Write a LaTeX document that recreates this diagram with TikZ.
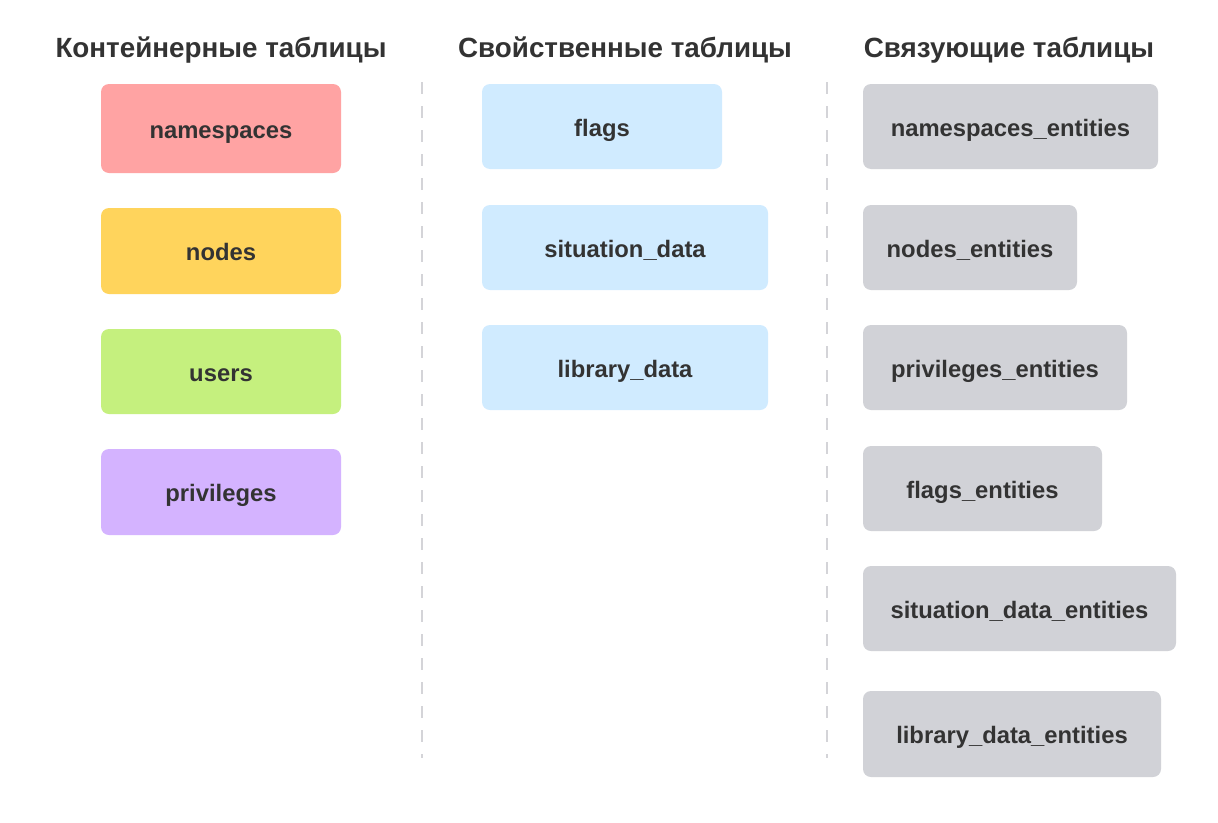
\documentclass[tikz,border=0pt]{standalone}
\usepackage{fontspec}
\setmainfont{Liberation Sans}
\begin{document}
\begin{tikzpicture}[x=1pt,y=-1pt,
  box/.style={rounded corners=8pt, draw=none, fill=#1},
  lbl/.style={anchor=base, inner sep=0pt, font=\fontsize{23.8}{27}\selectfont\bfseries, text=txt},
  hdr/.style={anchor=base, inner sep=0pt, font=\fontsize{27.8}{32}\selectfont\bfseries, text=txt},
  sep/.style={draw=sepc, line width=1.6pt, dash pattern=on 12pt off 12pt}]
\definecolor{txt}{HTML}{333333}
\definecolor{cpink}{HTML}{FFA3A3}
\definecolor{cyel}{HTML}{FFD45C}
\definecolor{cgreen}{HTML}{C5F07E}
\definecolor{cviol}{HTML}{D4B3FF}
\definecolor{cblue}{HTML}{D0EBFF}
\definecolor{cgray}{HTML}{D1D2D7}
\definecolor{sepc}{HTML}{D4D4D8}
\useasboundingbox[fill=white] (0,0) rectangle (1218,822);
% headings
\node[hdr] (h1) at (221,57) {Контейнерные таблицы};
\node[hdr] (h2) at (625,57) {Свойственные таблицы};
\node[hdr] (h3) at (1009,57) {Связующие таблицы};
% separators
\coordinate (s1a) at (422,82); \coordinate (s1b) at (422,758);
\coordinate (s2a) at (827,82); \coordinate (s2b) at (827,758);
\draw[sep] (s1a) -- (s1b);
\draw[sep] (s2a) -- (s2b);
% column 1
\fill[box=cpink] (101,84) rectangle (341,173);
\node[lbl] (ns) at (221,138) {namespaces};
\fill[box=cyel] (101,208) rectangle (341,294);
\node[lbl] (nd) at (221,260.5) {nodes};
\fill[box=cgreen] (101,329) rectangle (341,414);
\node[lbl] (us) at (221,381) {users};
\fill[box=cviol] (101,449) rectangle (341,535);
\node[lbl] (pr) at (221,501.5) {privileges};
% column 2
\fill[box=cblue] (482,84) rectangle (722,169);
\node[lbl] (fl) at (602,136) {flags};
\fill[box=cblue] (482,205) rectangle (768,290);
\node[lbl] (sd) at (625,257) {situation\_data};
\fill[box=cblue] (482,325) rectangle (768,410);
\node[lbl] (ld) at (625,377) {library\_data};
% column 3
\fill[box=cgray] (863,84) rectangle (1158,169);
\node[lbl] (nse) at (1010.5,136) {namespaces\_entities};
\fill[box=cgray] (863,205) rectangle (1077,290);
\node[lbl] (nde) at (970,257) {nodes\_entities};
\fill[box=cgray] (863,325) rectangle (1127,410);
\node[lbl] (pre) at (995,377) {privileges\_entities};
\fill[box=cgray] (863,446) rectangle (1102,531);
\node[lbl] (fle) at (982.5,498) {flags\_entities};
\fill[box=cgray] (863,566) rectangle (1176,651);
\node[lbl] (sde) at (1019.5,618) {situation\_data\_entities};
\fill[box=cgray] (863,691) rectangle (1161,777);
\node[lbl] (lde) at (1012,743.5) {library\_data\_entities};
\end{tikzpicture}
\end{document}
